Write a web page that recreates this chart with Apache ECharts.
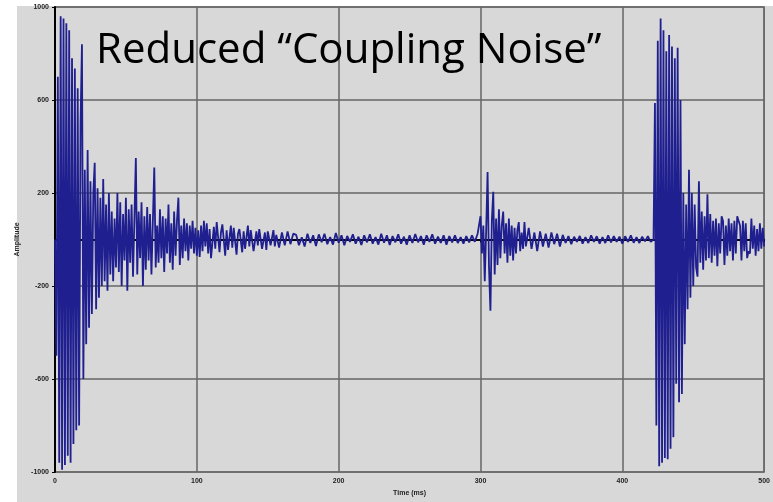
<!DOCTYPE html>
<html>
<head>
<meta charset="utf-8">
<script src="https://cdn.jsdelivr.net/npm/echarts@6/dist/echarts.min.js"></script>
<style>html,body{margin:0;padding:0;background:#fff}#c{width:773px;height:502px}</style>
</head>
<body>
<div id="c"></div>
<script>
const titleText = "Reduced \u201CCoupling Noise\u201D";
const xAxisName = "Time (ms)";
const yAxisName = "Amplitude";
const yTickLabels = ["-1000", "-600", "-200", "200", "600", "1000"];
const xTickLabels = ["0", "100", "200", "300", "400", "500"];

const burst1Time = [0,1,2,3,4,5,6,7,8,9,10,11,12,13,14,15,16,17,18,19,20,21,22,23,24,25,26,27,28,29,30,31,32,33,34,35,36,37,38,39,40];
const burst1Amp  = [0,-500,700,-960,960,-990,950,-970,930,-930,900,-960,780,-880,735,-820,650,-800,500,840,-600,300,-450,385,-380,250,-320,200,330,-300,220,-250,180,-200,260,-180,150,-220,200,-150,120];

const decay1Time = [41,42,43,44,45,46,47,48,49,50,51,52,53,54,55,56,57,58,59,60,61,62,63,64,65,66,67,68,69,70,71,72,73,74,75,76,77,78,79,80,81,82,83,84,85,86,87,88,89,90,91,92,93,94,95,96,97,98,99,100];
const decay1Amp  = [-180,90,-120,200,-140,160,-200,110,-90,180,-220,130,-100,150,-160,90,350,-150,120,-80,160,-200,100,-130,140,-90,110,-150,80,310,-120,60,-100,130,-80,100,-140,90,-60,150,-100,70,-130,120,-70,80,180,-110,60,-80,90,-50,70,-90,60,-40,80,-60,50,-70];

const quiet1Time = [101,102,103,104,105,106,107,108,109,110,112,113,114,116,117,118,120,121,122,124,125,126,128,129,130,132,133,134,136,137,138,140,142,143,144,146,148,149,150,152,154,155,156,158,160,162,164,166,168];
const quiet1Amp  = [40,-75,60,-50,80,-30,70,-60,45,-80,55,-40,75,-55,30,65,-70,40,-45,60,-35,50,-65,25,45,-55,35,-40,60,-30,40,-50,35,-25,45,-40,30,-45,35,-25,40,-30,20,-35,30,-25,35,-20,25];

const quiet2Time = [170,172,174,176,178,180,182,184,186,188,190,192,194,196,198,200,202,204,206,208,210,212,214,216,218,220,222,224,226,228,230,232,234,236,238,240,242,244,246,248,250,252,254,256,258,260,262,264,266,268,270,272,274,276,278,280,282,284,286,288,290,292,294,296,298];
const quiet2Amp  = [20,-25,10,-30,25,-15,18,-28,22,-12,25,-20,10,-22,28,-14,18,-25,15,-10,22,-18,12,-24,18,-12,22,-18,10,-22,25,-14,18,-24,15,-12,22,-18,12,-22,18,-15,24,-12,15,-22,18,-10,22,-18,12,-15,18,-22,15,-12,18,-15,10,-18,15,-12,18,-10,25];

const burst2Time = [300,301,302,303,304,305,306,307,308,309,310,311,312,313,314,315,316,317,318,319,320,321,322,323,324,325,326,327,328,329,330,331,332,334,336,338,340,342,344,346,348,350,352,354,356,358,360,362,364,366,368];
const burst2Amp  = [100,-60,60,-180,40,290,-120,-306,80,205,-150,90,-110,130,-80,60,120,-60,70,-100,90,-70,60,-90,50,-60,40,75,-50,30,-40,75,-30,50,-40,30,-50,35,-30,25,-35,30,-20,25,-30,20,-15,15,-20,12,-10];

const quiet3Time = [370,372,374,376,378,380,382,384,386,388,390,392,394,396,398,400,402,404,406,408,410,412,414,416,418,420,422];
const quiet3Amp  = [15,-18,10,-15,18,-10,14,-18,10,-15,18,-12,14,-10,12,-18,14,-10,18,-14,10,-15,12,-8,14,-10,0];

const burst3Time = [423,424,425,426,427,428,429,430,431,432,433,434,435,436,437,438,439,440,441,442,443,444,445,446,447,448,449,450,451,452,453,454,455,456,457,458,459,460,461,462,463,464,465,466,467,468,469,470,471,472,473,474,475,476,477,478,479,480,481,482,483,484,485,486,487,488,489,490,491,492,493,494,495,496,497,498,499,500];
const burst3Amp  = [587,-800,855,-975,950,-960,900,-940,810,-945,880,-900,830,-850,780,-620,825,-700,600,-665,200,-450,150,-300,300,-250,200,-200,150,-120,-160,250,-100,120,-130,100,-90,195,-80,110,-100,80,-70,90,-115,70,-60,100,80,-110,60,-70,90,-50,70,-90,80,-60,100,80,60,-90,80,-50,70,-80,-50,-60,90,-40,60,-70,45,-50,70,-40,50,-30];

const times = [].concat(burst1Time, decay1Time, quiet1Time, quiet2Time, burst2Time, quiet3Time, burst3Time);
const amps  = [].concat(burst1Amp, decay1Amp, quiet1Amp, quiet2Amp, burst2Amp, quiet3Amp, burst3Amp);
const seriesData = times.map((t, i) => [t, amps[i]]);

const chart = echarts.init(document.getElementById('c'), null, {renderer: 'canvas'});
chart.setOption({
  animation: false,
  backgroundColor: '#ffffff',
  graphic: [
    {type: 'rect', left: 17, top: 6, z: -10, shape: {width: 756, height: 496}, style: {fill: '#d8d8d8'}}
  ],
  title: {
    text: titleText, left: 91, top: 25,
    textStyle: {fontFamily: 'Open Sans', fontWeight: 'normal', fontSize: 42, color: '#000'}
  },
  grid: {left: 55, right: 7, top: 7, bottom: 28, show: true, backgroundColor: 'transparent', borderColor: '#777', borderWidth: 1.5},
  xAxis: {
    type: 'value', min: 0, max: 500, interval: 100,
    name: xAxisName, nameLocation: 'middle', nameGap: 18,
    nameTextStyle: {fontSize: 7, fontWeight: 'bold', color: '#222'},
    axisLine: {show: true, lineStyle: {color: '#000', width: 2}},
    axisTick: {show: true, length: 3, lineStyle: {color: '#000'}},
    axisLabel: {fontSize: 7, fontWeight: 'bold', color: '#222', margin: 6,
      formatter: (v) => xTickLabels[Math.round(v / 100)]},
    splitLine: {show: true, lineStyle: {color: '#666', width: 1.5}}
  },
  yAxis: {
    type: 'value', min: -1000, max: 1000, interval: 400,
    name: yAxisName, nameLocation: 'middle', nameGap: 34, nameRotate: 90,
    nameTextStyle: {fontSize: 7, fontWeight: 'bold', color: '#222'},
    axisLine: {show: true, lineStyle: {color: '#000', width: 2}},
    axisTick: {show: true, length: 3, lineStyle: {color: '#000'}},
    axisLabel: {fontSize: 7, fontWeight: 'bold', color: '#222', margin: 6,
      formatter: (v) => yTickLabels[Math.round((v + 1000) / 400)]},
    splitLine: {show: true, lineStyle: {color: '#666', width: 1.5}}
  },
  series: [{
    type: 'line', data: seriesData, showSymbol: false, symbol: 'none',
    lineStyle: {color: '#1f1f8f', width: 1.8}
  }]
});
</script>
</body>
</html>
